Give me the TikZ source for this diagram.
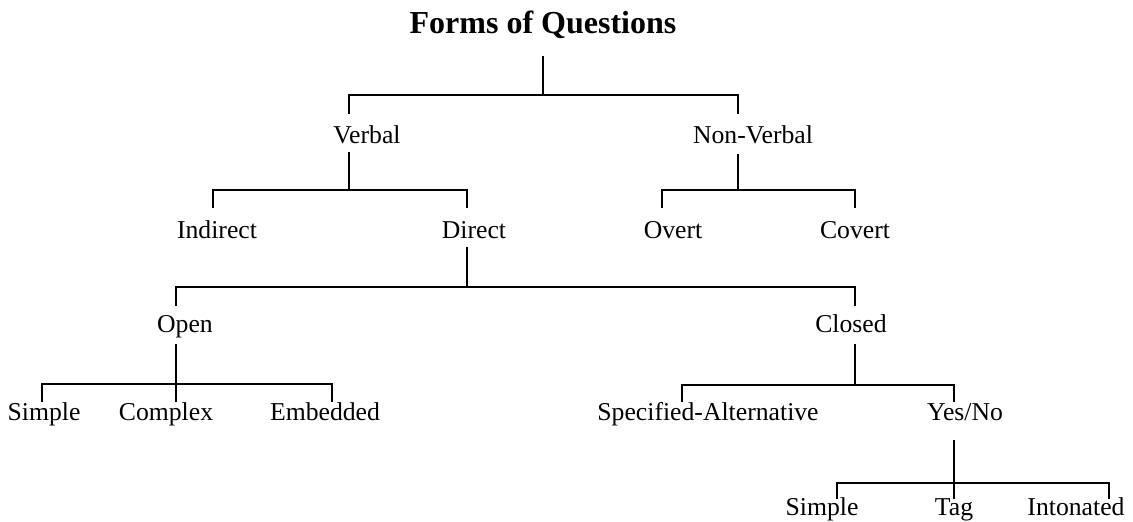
\documentclass[tikz,border=0pt]{standalone}
\usepackage{fontspec}
\setmainfont{Liberation Serif}

\begin{document}
\begin{tikzpicture}[x=0.5pt, y=-0.5pt,
    label/.style={inner sep=0pt, text height=0.7em, text depth=0.2em,
                  font=\fontsize{12.85}{15}\selectfont},
    heading/.style={inner sep=0pt, font=\fontsize{16}{19}\selectfont\bfseries},
    branch/.style={line width=1pt, line cap=rect}]

  \useasboundingbox (0,0) rectangle (1133,522);

  % --- 1. 見出し ---
  \node[heading] (title) at (543,25) {Forms of Questions};
  \coordinate (sRoot) at (543,57);
  \coordinate (jRoot) at (543,95);

  % --- 2. 第1段 (Verbal / Non-Verbal) ---
  \node[label] (verbal)    at (367,139) {Verbal};
  \node[label] (nonverbal) at (753,139) {Non-Verbal};
  \coordinate (cVerbal)    at (349,113);
  \coordinate (cNonverbal) at (738,113);
  \coordinate (sVerbal)    at (349,153);
  \coordinate (jVerbal)    at (349,190);
  \coordinate (sNonverbal) at (738,155);
  \coordinate (jNonverbal) at (738,190);

  % --- 3. 第2段 ---
  \node[label] (indirect) at (217,234) {Indirect};
  \node[label] (direct)   at (474,234) {Direct};
  \node[label] (overt)    at (673,234) {Overt};
  \node[label] (covert)   at (855,234) {Covert};
  \coordinate (cIndirect) at (213,207);
  \coordinate (cDirect)   at (467,207);
  \coordinate (cOvert)    at (662,207);
  \coordinate (cCovert)   at (855,207);
  \coordinate (sDirect)   at (467,248);
  \coordinate (jDirect)   at (467,287);

  % --- 4. 第3段 (Open / Closed) ---
  \node[label] (open)   at (185,328) {Open};
  \node[label] (closed) at (851,328) {Closed};
  \coordinate (cOpen)   at (176,305);
  \coordinate (cClosed) at (855,305);
  \coordinate (sOpen)   at (176,345);
  \coordinate (jOpen)   at (176,384);
  \coordinate (sClosed) at (855,345);
  \coordinate (jClosed) at (855,385);

  % --- 5. 第4段 ---
  \node[label] (simpleA)  at (44,416)  {Simple};
  \node[label] (complex)  at (166,416) {Complex};
  \node[label] (embedded) at (325,416) {Embedded};
  \node[label] (specalt)  at (708,416) {Specified-Alternative};
  \node[label] (yesno)    at (965,416) {Yes/No};
  \coordinate (cSimpleA)  at (42,401);
  \coordinate (cComplex)  at (176,401);
  \coordinate (cEmbedded) at (332,401);
  \coordinate (cSpecalt)  at (682,401);
  \coordinate (cYesno)    at (954,401);
  \coordinate (sYesno)    at (954,441);
  \coordinate (jYesno)    at (954,483);

  % --- 6. 第5段 (Yes/No の下) ---
  \node[label] (simpleB)   at (822,511)  {Simple};
  \node[label] (tag)       at (954,511)  {Tag};
  \node[label] (intonated) at (1076,511) {Intonated};
  \coordinate (cSimpleB)   at (837,498);
  \coordinate (cTag)       at (954,498);
  \coordinate (cIntonated) at (1109,498);

  % --- 7. 枝 ---
  \draw[branch] (sRoot) -- (jRoot);
  \draw[branch] (cVerbal) |- (jRoot) -| (cNonverbal);

  \draw[branch] (sVerbal) -- (jVerbal);
  \draw[branch] (cIndirect) |- (jVerbal) -| (cDirect);
  \draw[branch] (sNonverbal) -- (jNonverbal);
  \draw[branch] (cOvert) |- (jNonverbal) -| (cCovert);

  \draw[branch] (sDirect) -- (jDirect);
  \draw[branch] (cOpen) |- (jDirect) -| (cClosed);

  \draw[branch] (sOpen) -- (cComplex);
  \draw[branch] (cSimpleA) |- (jOpen) -| (cEmbedded);
  \draw[branch] (sClosed) -- (jClosed);
  \draw[branch] (cSpecalt) |- (jClosed) -| (cYesno);

  \draw[branch] (sYesno) -- (cTag);
  \draw[branch] (cSimpleB) |- (jYesno) -| (cIntonated);

\end{tikzpicture}
\end{document}
